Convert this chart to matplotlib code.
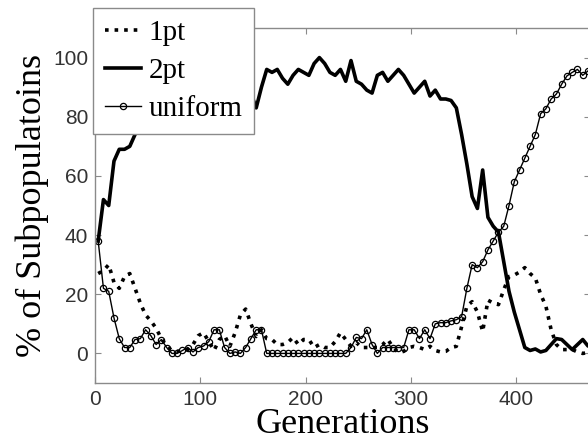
import matplotlib
matplotlib.use("Agg")
import matplotlib.pyplot as plt

# generations sampled every 5
generations = list(range(3, 499, 5))

pt1 = [27, 28, 30, 24, 22, 26, 27, 22, 17, 13,
       11, 8.5, 5, 2.4, 1, 0.7, 1, 1.3, 3, 6,
       7, 4, 1, 4.7, 6, 2.4, 7, 13, 15, 10,
       5.7, 8, 5, 4.7, 3, 3, 3.7, 5.4, 3, 4.7,
       4.7, 2, 3, 2, 2, 4, 7, 4.7, 2.4, 3.7,
       2, 2, 2, 2, 3, 4.7, 2, 0.3, 0.7, 2,
       2.4, 2, 1.3, 2.4, 1, 0.5, 0.7, 2, 2.4, 9,
       16, 17.5, 14, 7.4, 18, 17, 16.5, 21.5, 26, 26.5,
       27.5, 29, 27, 25.5, 20, 16, 8, 3, 1.3, 1.3,
       1.3, 0.5, 0, 0.3, 0.5, 1, 0.5, 0.3, 1, 0.5]

pt2 = [38, 52, 50, 65, 69, 69, 70, 74, 80, 86,
       90, 92, 89, 93, 95, 92, 94, 96, 93, 95,
       97, 94, 96, 93, 95, 97, 94, 92, 90, 88,
       83, 90, 96, 95, 96, 93, 91, 94, 96, 95,
       94, 98, 100, 98, 95, 94, 96, 92, 99, 92,
       91, 89, 88, 94, 95, 92, 94, 96, 94, 91,
       88, 90, 92, 87, 89, 86, 86, 85.5, 83, 74,
       64, 53, 49, 62, 46, 43, 41, 31, 21, 14,
       8, 2, 1, 1.5, 0.5, 1, 3, 5, 4.7, 3,
       1.3, 3, 4.7, 2.5, 3, 2, 2.5, 2, 3, 2]

uniform = [38, 22, 21, 12, 5, 2, 2, 4.7, 5, 8,
           6, 3, 4.7, 2, 0, 0, 1, 2, 0.5, 2,
           2.5, 4, 8, 8, 2, 0, 0.5, 0, 2, 5,
           8, 8, 0, 0, 0, 0, 0, 0, 0, 0,
           0, 0, 0, 0, 0, 0, 0, 0, 2, 5.4,
           5, 8, 3, 0, 2, 2, 2, 2, 2, 8,
           8, 5, 8, 5, 10, 10.4, 10.4, 11, 11.4, 12.4,
           22, 30, 29, 31, 35, 38, 41, 43, 50, 58,
           62, 66, 70, 74, 81, 82.7, 86, 87.7, 91, 93.8,
           95, 96, 94, 95.5, 96, 97, 95, 97, 96, 98]

serif = "Liberation Serif"
sans = "Liberation Sans"
spine_grey = "#8a8a8a"

fig = plt.figure(figsize=(5.88, 4.41), dpi=100)
ax = fig.add_axes([0.1616, 0.1315, 0.842, 0.805])

ax.plot(generations, pt1, color="black", linestyle=":", linewidth=2.6,
        label="1pt")
ax.plot(generations, pt2, color="black", linestyle="-", linewidth=2.6,
        label="2pt")
ax.plot(generations, uniform, color="black", linestyle="-", linewidth=1.0,
        marker="o", markersize=4.5, markerfacecolor="none",
        markeredgewidth=0.9, label="uniform")

ax.set_xlim(0, 470)
ax.set_ylim(-10, 110)
ax.set_xticks([0, 100, 200, 300, 400])
ax.set_yticks([0, 20, 40, 60, 80, 100])

for side in ax.spines.values():
    side.set_color(spine_grey)
    side.set_linewidth(1.0)

ax.tick_params(direction="in", length=4, width=0.8, color=spine_grey,
               top=True, right=True, labelsize=15, labelcolor="#333333",
               pad=5)
for lbl in ax.get_xticklabels() + ax.get_yticklabels():
    lbl.set_fontfamily(sans)

ax.set_xlabel("Generations", fontsize=26, family=serif, labelpad=-1)
ax.set_ylabel("% of Subpopulatoins", fontsize=26, family=serif, labelpad=3)

leg = fig.legend(loc="upper left", bbox_to_anchor=(0.158, 0.982),
                 bbox_transform=fig.transFigure, borderaxespad=0,
                 prop={"family": serif, "size": 21}, frameon=True,
                 fancybox=False, framealpha=1, edgecolor=spine_grey,
                 handlelength=1.25, handletextpad=0.25, labelspacing=0.4,
                 borderpad=0.4)
leg.get_frame().set_linewidth(1.0)
leg.set_zorder(5)

fig.savefig("out.png", dpi=100, facecolor="white")
